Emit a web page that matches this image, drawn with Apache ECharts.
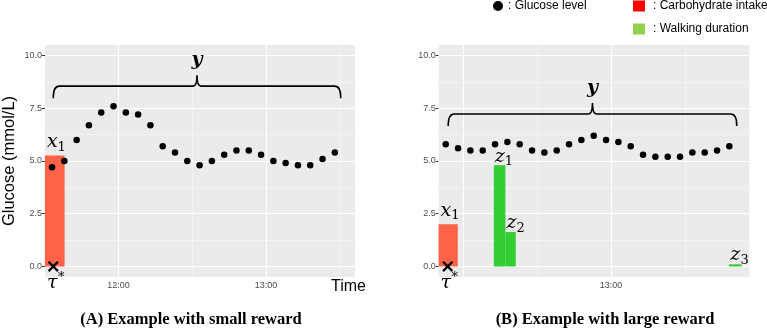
<!DOCTYPE html>
<html>
<head>
<meta charset="utf-8">
<script src="https://cdn.jsdelivr.net/npm/echarts@6/dist/echarts.min.js"></script>
<style>
  html, body { margin: 0; padding: 0; background: #fff; }
  #chart { width: 767px; height: 329px; }
</style>
</head>
<body>
<div id="chart"></div>
<script>
// glucose readings (CGM, every 5 min)
const leftTimes = ['11:33', '11:38', '11:43', '11:48', '11:53', '11:58', '12:03', '12:08', '12:13', '12:18', '12:23', '12:28',
  '12:33', '12:38', '12:43', '12:48', '12:53', '12:58', '13:03', '13:08', '13:13', '13:18', '13:23', '13:28'];
const leftGlucose = [4.7, 5.0, 6.0, 6.7, 7.3, 7.6, 7.3, 7.2, 6.7, 5.7, 5.4, 5.0,
  4.8, 5.0, 5.3, 5.5, 5.5, 5.3, 5.0, 4.9, 4.8, 4.8, 5.1, 5.4];
const rightTimes = ['11:53', '11:58', '12:03', '12:08', '12:13', '12:18', '12:23', '12:28', '12:33', '12:38', '12:43', '12:48',
  '12:53', '12:58', '13:03', '13:08', '13:13', '13:18', '13:23', '13:28', '13:33', '13:38', '13:43', '13:48'];
const rightGlucose = [5.8, 5.6, 5.5, 5.5, 5.8, 5.9, 5.8, 5.5, 5.4, 5.5, 5.8, 6.0,
  6.2, 6.0, 5.9, 5.7, 5.3, 5.2, 5.2, 5.2, 5.4, 5.4, 5.5, 5.7];

// bars: [start, end, height], start/end in minutes since 00:00
const leftCarb = [[690.1, 698.1, 5.26]];
const rightCarb = [[710.1, 717.9, 2.0]];
const rightWalk = [[732.5, 737.2, 4.8], [737.2, 741.4, 1.63], [827.8, 833.0, 0.1]];

// tau* markers and the "y" braces ([start, end, level])
const tauLeft = [[693.5, 0]];
const tauRight = [[713.8, 0]];
const braceLeft = [[693.5, 810.4, 8.55]];
const braceRight = [[714.0, 831.0, 7.23]];

// axis ticks / grid lines
const yMajor = [0, 2.5, 5, 7.5, 10];
const yMinor = [1.25, 3.75, 6.25, 8.75];
const xMajor = ['12:00', '13:00'];
const xMinor = ['12:30', '13:30'];
const leftTickLabels = ['12:00', '13:00'];
const rightTickLabels = ['13:00'];

function toMin(t) {
  let p = t.split(':');
  return +p[0] * 60 + +p[1];
}
function fmtTime(v) {
  let m = Math.round(v) % 60;
  return Math.floor(Math.round(v) / 60) + ':' + (m < 10 ? '0' + m : m);
}

let myChart = echarts.init(document.getElementById('chart'));

const mainFont = 'italic 19px "DejaVu Serif"';
const subFont = '13px "DejaVu Serif"';
const measureCtx = document.createElement('canvas').getContext('2d');
function textWidth(text, font) {
  measureCtx.font = font;
  return measureCtx.measureText(text).width;
}

// math labels next to the marks: main letter + subscript / superscript
// dx, dy: pixel offset of the letter's left-middle from the anchor point
const leftNotes = [
  { at: [690.1, 5.26], main: 'x', sub: '1', dx: 2, dy: -13 },
  { at: [690.1, 0], main: 'τ', sup: '*', dx: 2, dy: 17 }
];
const rightNotes = [
  { at: [710.1, 2.0], main: 'x', sub: '1', dx: 2, dy: -13.5 },
  { at: [710.1, 0], main: 'τ', sup: '*', dx: 2, dy: 17 },
  { at: [732.5, 4.8], main: 'z', sub: '1', dx: 1, dy: -8.5 },
  { at: [737.2, 1.63], main: 'z', sub: '2', dx: 1, dy: -8.7 },
  { at: [827.8, 0.1], main: 'z', sub: '3', dx: 1.5, dy: -9 }
];

function renderBar(params, api) {
  let p0 = api.coord([api.value(0), api.value(2)]);
  let p1 = api.coord([api.value(1), 0]);
  return {
    type: 'rect',
    shape: { x: p0[0], y: p0[1], width: p1[0] - p0[0], height: p1[1] - p0[1] },
    style: api.style()
  };
}

function renderBrace(params, api) {
  let a = api.coord([api.value(0), api.value(2)]);
  let b = api.coord([api.value(1), api.value(2)]);
  let y = a[1], x0 = a[0], x1 = b[0], xm = (x0 + x1) / 2;
  let drop = 12, rise = 11, r = 6, r2 = 4;
  let d = 'M' + x0 + ',' + (y + drop) +
    ' Q' + x0 + ',' + y + ' ' + (x0 + r) + ',' + y +
    ' L' + (xm - r2) + ',' + y +
    ' Q' + xm + ',' + y + ' ' + xm + ',' + (y - rise) +
    ' Q' + xm + ',' + y + ' ' + (xm + r2) + ',' + y +
    ' L' + (x1 - r) + ',' + y +
    ' Q' + x1 + ',' + y + ' ' + x1 + ',' + (y + drop);
  return {
    type: 'group',
    children: [
      { type: 'path', shape: { pathData: d }, style: { stroke: '#000', fill: null, lineWidth: 1.6 } },
      { type: 'text', x: xm, y: y - rise - 15,
        style: { text: 'y', font: 'italic bold 19px "DejaVu Serif"', fill: '#000', align: 'center', verticalAlign: 'middle' } }
    ]
  };
}

function noteRenderer(notes) {
  return function (params, api) {
    let n = notes[params.dataIndex];
    let p = api.coord([api.value(0), api.value(1)]);
    let x = p[0] + n.dx, y = p[1] + n.dy;
    let adv = textWidth(n.main, mainFont);
    let kids = [
      { type: 'text', x: x, y: y, style: { text: n.main, font: mainFont, fill: '#000', align: 'left', verticalAlign: 'middle' } }
    ];
    if (n.sub) {
      kids.push({ type: 'text', x: x + adv, y: y + 5,
        style: { text: n.sub, font: subFont, fill: '#000', align: 'left', verticalAlign: 'middle' } });
    }
    if (n.sup) {
      kids.push({ type: 'text', x: x + adv + 0.5, y: y - 6,
        style: { text: n.sup, font: subFont, fill: '#000', align: 'left', verticalAlign: 'middle' } });
    }
    return { type: 'group', children: kids };
  };
}

// the axis word "Time", placed under the right end of the left panel
function renderTimeWord(params, api) {
  let p = api.coord([api.value(0), api.value(1)]);
  return {
    type: 'text', x: p[0] + 11, y: p[1] + 10,
    style: { text: 'Time', font: '16px "Liberation Sans"', fill: '#000', align: 'right', verticalAlign: 'middle' }
  };
}

function gridLines(marks) {
  return {
    silent: true, symbol: 'none', z: 1, animation: false,
    label: { show: false },
    emphasis: { disabled: true },
    data: marks
  };
}
function panelLines() {
  let out = [];
  yMinor.forEach(v => out.push({ yAxis: v, lineStyle: { color: '#f5f5f5', width: 0.8, type: 'solid' } }));
  xMinor.forEach(v => out.push({ xAxis: toMin(v), lineStyle: { color: '#f5f5f5', width: 0.8, type: 'solid' } }));
  yMajor.forEach(v => out.push({ yAxis: v, lineStyle: { color: '#ffffff', width: 1.1, type: 'solid' } }));
  xMajor.forEach(v => out.push({ xAxis: toMin(v), lineStyle: { color: '#ffffff', width: 1.1, type: 'solid' } }));
  return out;
}

const tickLabelStyle = { color: '#4d4d4d', fontSize: 9, fontFamily: 'Liberation Sans' };

function makeX(idx, min, max, labels) {
  let vals = labels.map(toMin);
  return {
    type: 'value', gridIndex: idx, min: min, max: max,
    axisLine: { show: false },
    axisTick: { show: true, length: 3, lineStyle: { color: '#333' }, customValues: vals },
    axisLabel: { ...tickLabelStyle, margin: 4, customValues: vals, formatter: fmtTime },
    splitLine: { show: false }
  };
}
function makeY(idx) {
  return {
    type: 'value', gridIndex: idx, min: -0.5, max: 10.5,
    axisLine: { show: false },
    axisTick: { show: true, length: 3, lineStyle: { color: '#333' }, customValues: yMajor },
    axisLabel: { ...tickLabelStyle, margin: 3, customValues: yMajor, formatter: v => v.toFixed(1) },
    splitLine: { show: false }
  };
}

let yLeft = makeY(0);
yLeft.name = 'Glucose (mmol/L)';
yLeft.nameLocation = 'middle';
yLeft.nameGap = 27;
yLeft.nameTextStyle = { color: '#000', fontSize: 16.5, fontFamily: 'Liberation Sans' };

const titleStyle = { fontFamily: 'Liberation Serif', fontWeight: 'bold', fontSize: 16.5, color: '#000' };

let option = {
  animation: false,
  backgroundColor: '#fff',
  title: [
    { text: '(A) Example with small reward', left: 191, top: 311, padding: 0, textAlign: 'center', textStyle: titleStyle },
    { text: '(B) Example with large reward', left: 605, top: 311, padding: 0, textAlign: 'center', textStyle: titleStyle }
  ],
  legend: [
    { left: 493, top: 0, padding: 0, itemWidth: 10, itemHeight: 10, selectedMode: false,
      formatter: ': {name}',
      textStyle: { color: '#000', fontSize: 12, fontFamily: 'Liberation Sans' },
      data: [{ name: 'Glucose level', icon: 'circle' }] },
    { left: 633, top: 0, padding: 0, orient: 'vertical', itemWidth: 12, itemHeight: 11, itemGap: 11, selectedMode: false,
      formatter: ': {name}',
      textStyle: { color: '#000', fontSize: 12, fontFamily: 'Liberation Sans', padding: [0, 0, 0, 3] },
      data: [
        { name: 'Carbohydrate intake', icon: 'rect', itemStyle: { color: '#ff0000' } },
        { name: 'Walking duration', icon: 'rect', itemStyle: { color: '#92d050' } }
      ] }
  ],
  grid: [
    { left: 44, top: 45, width: 311, height: 232, show: true, backgroundColor: '#ebebeb', borderWidth: 0 },
    { left: 438.67, top: 45, width: 310.67, height: 232, show: true, backgroundColor: '#ebebeb', borderWidth: 0 }
  ],
  xAxis: [makeX(0, 690.14, 816.2, leftTickLabels), makeX(1, 710.14, 836.1, rightTickLabels)],
  yAxis: [yLeft, makeY(1)],
  series: [
    { name: 'Carbohydrate intake', type: 'custom', xAxisIndex: 0, yAxisIndex: 0, z: 2,
      itemStyle: { color: '#ff6347' }, renderItem: renderBar, data: leftCarb,
      markLine: gridLines(panelLines()) },
    { name: 'Carbohydrate intake', type: 'custom', xAxisIndex: 1, yAxisIndex: 1, z: 2,
      itemStyle: { color: '#ff6347' }, renderItem: renderBar, data: rightCarb,
      markLine: gridLines(panelLines()) },
    { name: 'Walking duration', type: 'custom', xAxisIndex: 1, yAxisIndex: 1, z: 2,
      itemStyle: { color: '#32cd32' }, renderItem: renderBar, data: rightWalk },
    { name: 'Glucose level', type: 'scatter', xAxisIndex: 0, yAxisIndex: 0, z: 3,
      symbolSize: 6.5, itemStyle: { color: '#000', opacity: 1 },
      data: leftTimes.map((t, i) => [toMin(t), leftGlucose[i]]) },
    { name: 'Glucose level', type: 'scatter', xAxisIndex: 1, yAxisIndex: 1, z: 3,
      symbolSize: 6.5, itemStyle: { color: '#000', opacity: 1 },
      data: rightTimes.map((t, i) => [toMin(t), rightGlucose[i]]) },
    { name: 'tau-left', type: 'scatter', xAxisIndex: 0, yAxisIndex: 0, z: 4, symbolSize: 11,
      symbol: 'path://M0,3 L3,0 L10,7 L17,0 L20,3 L13,10 L20,17 L17,20 L10,13 L3,20 L0,17 L7,10 Z',
      itemStyle: { color: '#000', opacity: 1 }, data: tauLeft },
    { name: 'tau-right', type: 'scatter', xAxisIndex: 1, yAxisIndex: 1, z: 4, symbolSize: 11,
      symbol: 'path://M0,3 L3,0 L10,7 L17,0 L20,3 L13,10 L20,17 L17,20 L10,13 L3,20 L0,17 L7,10 Z',
      itemStyle: { color: '#000', opacity: 1 }, data: tauRight },
    { name: 'brace-left', type: 'custom', xAxisIndex: 0, yAxisIndex: 0, z: 5, silent: true,
      renderItem: renderBrace, data: braceLeft },
    { name: 'brace-right', type: 'custom', xAxisIndex: 1, yAxisIndex: 1, z: 5, silent: true,
      renderItem: renderBrace, data: braceRight },
    { name: 'notes-left', type: 'custom', xAxisIndex: 0, yAxisIndex: 0, z: 5, silent: true,
      renderItem: noteRenderer(leftNotes), data: leftNotes.map(n => n.at) },
    { name: 'notes-right', type: 'custom', xAxisIndex: 1, yAxisIndex: 1, z: 5, silent: true,
      renderItem: noteRenderer(rightNotes), data: rightNotes.map(n => n.at) },
    { name: 'time-word', type: 'custom', xAxisIndex: 0, yAxisIndex: 0, z: 5, silent: true,
      renderItem: renderTimeWord, data: [[816.2, -0.5]] }
  ]
};
myChart.setOption(option);
window.addEventListener('resize', function () {
  myChart.resize();
});
</script>
</body>
</html>
